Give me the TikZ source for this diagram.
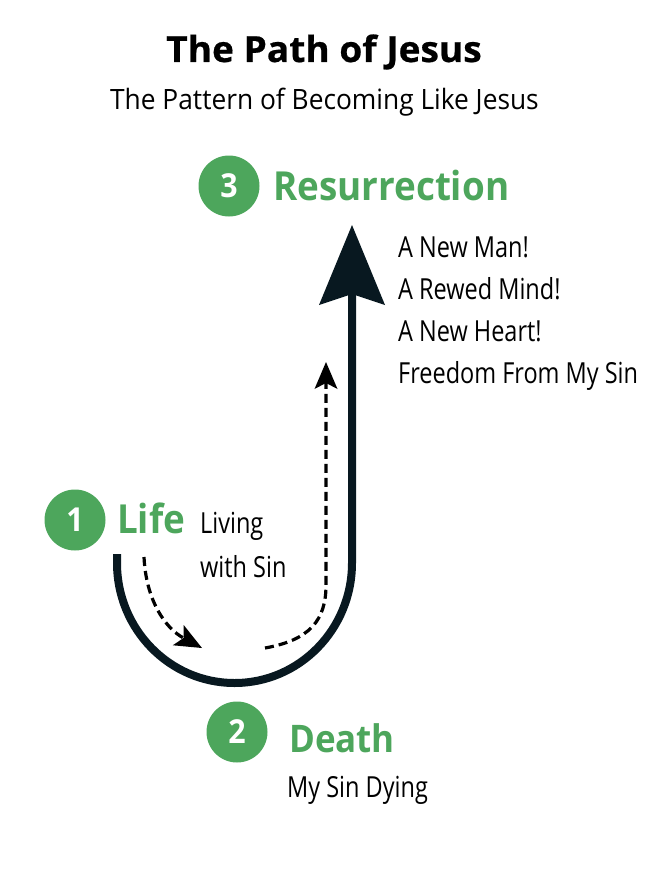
\documentclass[tikz,border=0pt]{standalone}
\usepackage{fontspec}
\setmainfont{Open Sans}[FakeStretch=0.94]
\newfontfamily\narrowfont{Open Sans}[FakeStretch=0.81]
\newfontfamily\headfont{Open Sans}[FakeStretch=0.92]
\newfontfamily\titlefont{Open Sans}[FakeStretch=1.03,FakeBold=0.6]
\usetikzlibrary{arrows.meta}
\definecolor{pathgreen}{RGB}{77,166,92}
\definecolor{pathdark}{RGB}{8,24,32}

\begin{document}
\begin{tikzpicture}[x=1pt,y=-1pt,line width=.35pt,
  stepnum/.style={circle,fill=pathgreen,text=white,minimum size=61pt,inner sep=0pt,
    font=\headfont\bfseries\fontsize{33}{33}\selectfont},
  stephead/.style={anchor=base west,inner sep=0pt,text=pathgreen,
    font=\headfont\bfseries\fontsize{40}{40}\selectfont},
  steptext/.style={anchor=base west,inner sep=0pt,align=left},
  dashpath/.style={line width=3.2pt,dash pattern=on 9pt off 5pt,
    -{Stealth[length=27pt,width=23pt,inset=6pt,line width=0pt]}}]
\useasboundingbox (0,0) rectangle (668,880);
% heading
\node[anchor=base,inner sep=0pt,font=\titlefont\bfseries\fontsize{36}{36}\selectfont] (title) at (324,62) {The Path of Jesus};
\node[anchor=base,inner sep=0pt,font=\fontsize{28}{28}\selectfont] (subtitle) at (324.5,110) {The Pattern of Becoming Like Jesus};
% the three steps
\node[stepnum] (n3) at (229,186) {3};
\node[stephead] (resur) at (273,200) {Resurrection};
\node[steptext,font=\narrowfont\fontsize{29}{42}\selectfont] (resurtext) at (398,383) {A New Man!\\A Rewed Mind!\\A New Heart!\\Freedom From My Sin};
\node[stepnum] (n1) at (75,520) {1};
\node[stephead] (life) at (117,533) {Life};
\node[steptext,font=\narrowfont\fontsize{29}{44}\selectfont] (lifetext) at (200,577) {Living\\with Sin};
\node[stepnum] (n2) at (237,732) {2};
\node[stephead,font=\headfont\bfseries\fontsize{38}{38}\selectfont] (death) at (289,752) {Death};
\node[steptext,font=\narrowfont\fontsize{29}{44}\selectfont] (deathtext) at (287,797) {My Sin Dying};
% the path
\coordinate (pathstart) at (117,554);
\coordinate (pathtip) at (352,225);
\draw[pathdark,line width=8pt,-{Stealth[length=80pt,width=66pt,inset=11pt,line width=0pt]}]
  (pathstart) -- (117,563) arc[start angle=180,end angle=0,x radius=117.5,y radius=120] -- (pathtip);
\coordinate (lifedash) at (144,557);
\coordinate (deathtip) at (202,648);
\draw[dashpath] (lifedash) .. controls (146,600) and (165,628) .. (deathtip);
\coordinate (deathdash) at (265,648);
\coordinate (resurtip) at (326,362);
\draw[dashpath] (deathdash) .. controls (310,640) and (326,620) .. (326,585) -- (resurtip);
\end{tikzpicture}
\end{document}
